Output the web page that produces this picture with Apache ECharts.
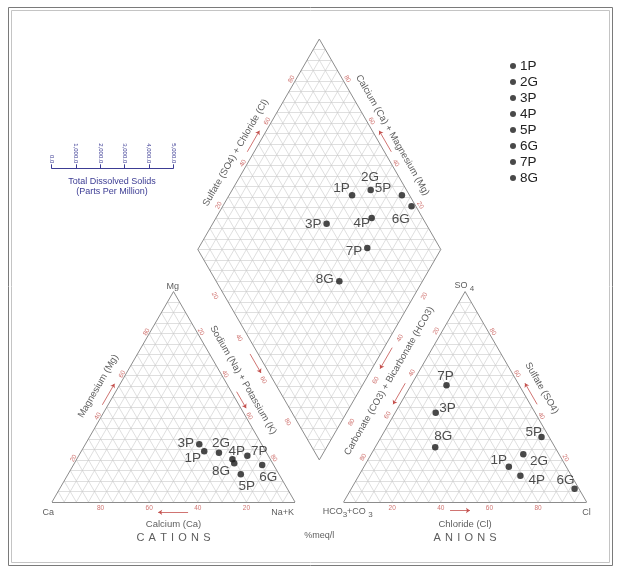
<!DOCTYPE html>
<html>
<head>
<meta charset="utf-8">
<title>Piper Diagram</title>
<script src="https://cdn.jsdelivr.net/npm/echarts@6/dist/echarts.min.js"></script>
<style>
html, body { margin: 0; padding: 0; background: #fff; }
#chart { width: 623px; height: 568px; }
</style>
</head>
<body>
<div id="chart"></div>
<script>
// Water samples, major ions in %meq/l
const samples = ['1P', '2G', '3P', '4P', '5P', '6G', '7P', '8G'];
const calcium = [25.3, 19.6, 25.7, 15.6, 15.7, 4.7, 8.6, 15.8];
const magnesium = [24.1, 23.4, 27.4, 20.3, 13.2, 17.6, 22.0, 18.4];
const sodiumPotassium = [50.6, 57.0, 46.9, 64.1, 71.1, 77.7, 69.4, 65.8];
const bicarbonate = [23.6, 14.7, 40.9, 21.0, 3.1, 1.8, 29.9, 49.3];
const sulfate = [16.8, 22.7, 42.4, 12.5, 30.9, 6.3, 55.5, 26.0];
const chloride = [59.6, 62.6, 16.7, 66.5, 66.0, 91.9, 14.6, 24.7];

// Scale annotations
const edgeTicks = [20, 40, 60, 80];
const tdsTicks = [0, 1000, 2000, 3000, 4000, 5000];

// ---- geometry, triangle side = 100 units ----
const H = Math.sqrt(3) / 2;
const GAP = 20;
const AX = 100 + GAP;                 // left corner of the anion triangle
const B = [AX - GAP / 2, GAP * H];    // lowest corner of the diamond
const U = [-50, 100 * H];             // diamond edge towards its left corner
const V = [50, 100 * H];              // diamond edge towards its right corner

function add(a, b, s) { s = s === undefined ? 1 : s; return [a[0] + b[0] * s, a[1] + b[1] * s]; }
function lerp(a, b, t) { return [a[0] + (b[0] - a[0]) * t, a[1] + (b[1] - a[1]) * t]; }

const DL = add(B, U), DR = add(B, V), DT = add(add(B, U), V);
const CA = [0, 0], NA = [100, 0], MG = [50, 100 * H];
const HC = [AX, 0], CL = [AX + 100, 0], SO = [AX + 50, 100 * H];

const PX = 2.43;                       // pixels per unit
const ORIGIN = [52, 502];              // pixel position of the Ca corner
const WIDTH = 623, HEIGHT = 568;
const XMIN = -ORIGIN[0] / PX, XMAX = (WIDTH - ORIGIN[0]) / PX;
const YMIN = -(HEIGHT - ORIGIN[1]) / PX, YMAX = ORIGIN[1] / PX;

// ternary -> plane
function cationXY(ca, mg, na) { return [na + mg / 2, mg * H]; }
function anionXY(hc, so, cl) { return [AX + cl + so / 2, so * H]; }
function diamondXY(na, soCl) { return add(add(B, U, 1 - na / 100), V, soCl / 100); }

// ---- mesh ----
const gridSegs = [], edgeSegs = [];
function triangleMesh(A, C, T) {
  for (let k = 5; k < 100; k += 5) {
    const f = k / 100;
    gridSegs.push([lerp(A, T, f), lerp(C, T, f)]);
    gridSegs.push([lerp(A, C, f), lerp(C, T, 1 - f)]);
    gridSegs.push([lerp(A, C, f), lerp(A, T, f)]);
  }
  edgeSegs.push([A, C], [C, T], [T, A]);
}
triangleMesh(CA, NA, MG);
triangleMesh(HC, CL, SO);
for (let k = 5; k < 100; k += 5) {
  const f = k / 100;
  gridSegs.push([lerp(B, DL, f), lerp(DR, DT, f)]);
  gridSegs.push([lerp(B, DR, f), lerp(DL, DT, f)]);
}
for (let j = 1; j < 40; j++) {
  const d = j * 5 * H;
  const half = (d <= 100 * H ? d : 200 * H - d) / (2 * H);
  gridSegs.push([[B[0] - half, B[1] + d], [B[0] + half, B[1] + d]]);
}
edgeSegs.push([B, DL], [DL, DT], [DT, DR], [DR, B]);

// ---- scale labels along edges ----
const RED = '#c4514e';
const FONT = '"Liberation Sans", Arial, sans-serif';
const annot = [];
function text(p, str, o) {
  annot.push({ value: p, label: Object.assign({ show: true, formatter: str, position: 'inside',
    fontFamily: FONT, color: '#333', fontSize: 9 }, o || {}) });
}
function nrm(x, y) { return [x, y]; }
function edgePt(P0, P1, t, n, dpx) { return add(lerp(P0, P1, t), n, dpx / PX); }

const edges = [
  { a: CA, b: NA, t: v => (100 - v) / 100, n: nrm(0, -1), d: 6.3, r: 0 },
  { a: CA, b: MG, t: v => v / 100, n: nrm(-H, 0.5), d: 3.2, r: 60 },
  { a: NA, b: MG, t: v => 1 - v / 100, n: nrm(H, 0.5), d: 3.5, r: -60 },
  { a: B, b: DL, t: v => 1 - v / 100, n: nrm(-H, -0.5), d: 8.5, r: -60 },
  { a: DL, b: DT, t: v => v / 100, n: nrm(-H, 0.5), d: 4, r: 60 },
  { a: DR, b: DT, t: v => v / 100, n: nrm(H, 0.5), d: 4.3, r: -60 },
  { a: B, b: DR, t: v => 1 - v / 100, n: nrm(H, -0.5), d: 9, r: 60 },
  { a: HC, b: SO, t: v => 1 - v / 100, n: nrm(-H, 0.5), d: 5.3, r: 60 },
  { a: CL, b: SO, t: v => v / 100, n: nrm(H, 0.5), d: 3.8, r: -60 },
  { a: HC, b: CL, t: v => v / 100, n: nrm(0, -1), d: 6.3, r: 0 }
];
edges.forEach(e => edgeTicks.forEach(v => {
  text(edgePt(e.a, e.b, e.t(v), e.n, e.d), String(v), { color: RED, fontSize: 6.5, rotate: e.r });
}));

// arrows showing the direction of increase of each scale
const arrows = [];
function arrow(P0, P1, t0, t1, n, dpx) {
  arrows.push({ coords: [edgePt(P0, P1, t0, n, dpx), edgePt(P0, P1, t1, n, dpx)] });
}
arrow(CA, NA, 0.56, 0.437, [0, -1], 10.3);
arrow(CA, MG, 0.45, 0.55, [-H, 0.5], 5);
arrow(NA, MG, 0.513, 0.435, [H, 0.5], 4.6);
arrow(B, DL, 0.52, 0.43, [-H, -0.5], 7);
arrow(DL, DT, 0.45, 0.55, [-H, 0.5], 6);
arrow(DR, DT, 0.45, 0.55, [H, 0.5], 6);
arrow(B, DR, 0.55, 0.45, [H, -0.5], 7);
arrow(HC, SO, 0.55, 0.45, [-H, 0.5], 6);
arrow(CL, SO, 0.45, 0.55, [H, 0.5], 6);
arrow(HC, CL, 0.438, 0.52, [0, -1], 8.5);

// axis titles
const TITLE = { fontSize: 9.5, color: '#333' };
text(edgePt(CA, MG, 0.508, [-H, 0.5], 17.9), 'Magnesium (Mg)', Object.assign({ rotate: 60 }, TITLE));
text(edgePt(NA, MG, 0.541, [H, 0.5], 16), 'Sodium (Na) + Potassium (K)', Object.assign({ rotate: -60 }, TITLE));
text(edgePt(DL, DT, 0.423, [-H, 0.5], 15.6), 'Sulfate (SO4) + Chloride (Cl)', Object.assign({ rotate: 60 }, TITLE));
text(edgePt(DR, DT, 0.507, [H, 0.5], 15.3), 'Calcium (Ca) + Magnesium (Mg)', Object.assign({ rotate: -60 }, TITLE));
text(edgePt(B, DR, 0.425, [H, -0.5], 21), 'Carbonate (CO3) + Bicarbonate (HCO3)', Object.assign({ rotate: 60 }, TITLE));
text(edgePt(CL, SO, 0.498, [H, 0.5], 18), 'Sulfate (SO4)', Object.assign({ rotate: -60 }, TITLE));
text(add(lerp(CA, NA, 0.5), [0, -22 / PX]), 'Calcium (Ca)', TITLE);
text(add(lerp(HC, CL, 0.5), [0, -22 / PX]), 'Chloride (Cl)', TITLE);
text(add(B, [0, -B[1] - 33.7 / PX]), '%meq/l', { fontSize: 9, color: '#333' });

// corner labels
text(add(CA, [-1.5, -4.2]), 'Ca');
text(add(NA, [-5.1, -4.2]), 'Na+K');
text(add(MG, [-0.3, 2.0]), 'Mg');
text(add(HC, [1.7, -4.4]), '{a|HCO}{s|3}{a|+CO }{s|3}', {
  rich: { a: { fontSize: 9, color: '#333', fontFamily: FONT, lineHeight: 12, verticalAlign: 'top' },
          s: { fontSize: 8, color: '#333', fontFamily: FONT, lineHeight: 12, verticalAlign: 'bottom' } } });
text(add(CL, [0, -4.4]), 'Cl');
text(add(SO, [-0.3, 2.0]), '{a|SO}{s| 4}', {
  rich: { a: { fontSize: 9, color: '#333', fontFamily: FONT, lineHeight: 12, verticalAlign: 'top' },
          s: { fontSize: 8, color: '#333', fontFamily: FONT, lineHeight: 12, verticalAlign: 'bottom' } } });

// letter-spaced captions
function spaced(center, word, size, gap) {
  const ctx = document.createElement('canvas').getContext('2d');
  ctx.font = size + 'px ' + FONT;
  const w = word.split('').map(c => ctx.measureText(c).width);
  const total = w.reduce((s, x) => s + x, 0) + gap * (w.length - 1);
  let x = -total / 2;
  word.split('').forEach((c, i) => {
    text(add(center, [(x + w[i] / 2) / PX, 0]), c, { fontSize: size, color: '#333' });
    x += w[i] + gap;
  });
}
spaced(add(lerp(CA, NA, 0.5), [0, -36.3 / PX]), 'CATIONS', 11, 4.2);
spaced(add(lerp(HC, CL, 0.5), [0, -36.3 / PX]), 'ANIONS', 11, 4.2);

// ---- sample points ----
// label offsets in pixels: [cation, anion, diamond]
const labelOffsets = {
  '1P': [[-11.6, 7], [-10, -6], [-10.6, -6.4]],
  '2G': [[2, -9.4], [15.6, 7.4], [-0.7, -12.4]],
  '3P': [[-13.6, -1], [11.7, -4.4], [-13.3, 0]],
  '4P': [[4.4, -7.6], [16.3, 5], [-10, 5.3]],
  '5P': [[6, 11.7], [-7.7, -4.3], [-19, -6.4]],
  '6G': [[6, 12.3], [-9, -8], [-10.7, 12.7]],
  '7P': [[12, -4], [-1, -8.6], [-13.4, 3.4]],
  '8G': [[-13.3, 7.7], [8, -10.6], [-14.7, -1.7]]
};
const DOT = '#1c1c1c';
const sampleSeries = samples.map((name, i) => {
  const pts = [
    cationXY(calcium[i], magnesium[i], sodiumPotassium[i]),
    anionXY(bicarbonate[i], sulfate[i], chloride[i]),
    diamondXY(sodiumPotassium[i], sulfate[i] + chloride[i])
  ];
  return {
    name: name, type: 'scatter', symbol: 'circle', symbolSize: 6.5, z: 5,
    itemStyle: { color: DOT },
    label: { show: true, position: 'inside', formatter: name, fontSize: 13.5,
      fontFamily: FONT, color: '#222' },
    data: pts.map((p, k) => ({ value: p, label: { offset: labelOffsets[name][k] } }))
  };
});

const chart = echarts.init(document.getElementById('chart'), null, { renderer: 'canvas' });
chart.setOption({
  animation: false,
  backgroundColor: '#fff',
  grid: [
    { left: 0, right: 0, top: 0, bottom: 0 },
    { left: 51.7, top: 168.3, width: 121.6, height: 10 }
  ],
  xAxis: [
    { gridIndex: 0, type: 'value', min: XMIN, max: XMAX, show: false },
    { gridIndex: 1, type: 'value', min: 0, max: 5000, interval: 1000, position: 'top',
      axisLine: { show: true, onZero: false, lineStyle: { color: '#3c3c94', width: 1 } },
      axisTick: { show: true, length: 4, lineStyle: { color: '#3c3c94' } },
      splitLine: { show: false },
      axisLabel: { rotate: 90, fontSize: 6, color: '#3c3c94', margin: 5, fontFamily: FONT,
        showMinLabel: true, showMaxLabel: true,
        formatter: v => v.toLocaleString('en-US', { minimumFractionDigits: 1, maximumFractionDigits: 1 }) } }
  ],
  yAxis: [
    { gridIndex: 0, type: 'value', min: YMIN, max: YMAX, show: false },
    { gridIndex: 1, type: 'value', show: false }
  ],
  legend: {
    data: samples, orient: 'vertical', left: 510, top: 58, padding: 0,
    icon: 'circle', itemWidth: 6, itemHeight: 6, itemGap: 0, selectedMode: false,
    textStyle: { fontSize: 13.5, lineHeight: 16, color: '#222', fontFamily: FONT, padding: [0, 0, 0, -1] }
  },
  graphic: [
    { type: 'rect', shape: { x: 8.5, y: 7.5, width: 604, height: 558 }, style: { fill: null, stroke: '#7a7a7a', lineWidth: 1 }, silent: true },
    { type: 'rect', shape: { x: 11.5, y: 10.5, width: 598, height: 552 }, style: { fill: null, stroke: '#c4c4c4', lineWidth: 1 }, silent: true },
    { type: 'text', x: 112, y: 181.7, style: { text: 'Total Dissolved Solids', fill: '#3c3c94', font: '9px ' + FONT, textAlign: 'center', textVerticalAlign: 'middle' }, silent: true },
    { type: 'text', x: 112, y: 191.7, style: { text: '(Parts Per Million)', fill: '#3c3c94', font: '9px ' + FONT, textAlign: 'center', textVerticalAlign: 'middle' }, silent: true }
  ],
  series: [
    { type: 'lines', coordinateSystem: 'cartesian2d', xAxisIndex: 0, yAxisIndex: 0, silent: true, z: 1,
      lineStyle: { color: '#c9c9c9', width: 0.6, opacity: 1 }, data: gridSegs.map(c => ({ coords: c })) },
    { type: 'lines', coordinateSystem: 'cartesian2d', xAxisIndex: 0, yAxisIndex: 0, silent: true, z: 2,
      lineStyle: { color: '#8c8c8c', width: 1, opacity: 1 }, data: edgeSegs.map(c => ({ coords: c })) },
    { type: 'lines', coordinateSystem: 'cartesian2d', xAxisIndex: 0, yAxisIndex: 0, silent: true, z: 3,
      symbol: ['none', 'arrow'], symbolSize: 4,
      lineStyle: { color: RED, width: 0.8, opacity: 1 }, data: arrows },
    { type: 'scatter', xAxisIndex: 0, yAxisIndex: 0, silent: true, z: 4, symbolSize: 1,
      itemStyle: { color: 'rgba(0,0,0,0)' }, data: annot }
  ].concat(sampleSeries)
});
</script>
</body>
</html>
